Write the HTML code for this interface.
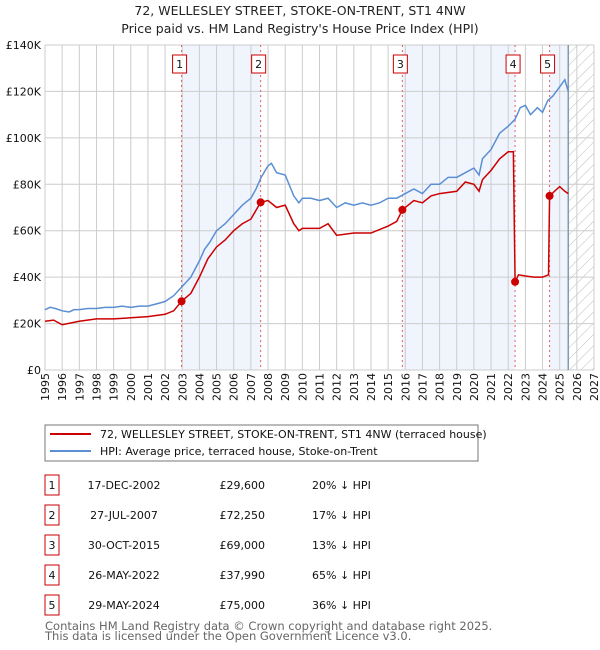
<!DOCTYPE html>
<html><head><meta charset="utf-8"><style>
body{margin:0;background:#fff;font-family:"DejaVu Sans","Liberation Sans",sans-serif;}
svg{display:block}
</style></head><body>
<svg id="c" width="600" height="650" xmlns="http://www.w3.org/2000/svg" font-family="DejaVu Sans, Liberation Sans, sans-serif">
<text x="300" y="15" text-anchor="middle" font-size="12.5" fill="#222">72, WELLESLEY STREET, STOKE-ON-TRENT, ST1 4NW</text>
<text x="300" y="33" text-anchor="middle" font-size="12.5" fill="#222">Price paid vs. HM Land Registry's House Price Index (HPI)</text>
<g id="plot"></g>
<rect x="45" y="425" width="433" height="36" fill="#fff" stroke="#777"/>
<line x1="50" y1="434" x2="91" y2="434" stroke="#cc0000" stroke-width="2"/>
<text x="100" y="438" font-size="11" fill="#111">72, WELLESLEY STREET, STOKE-ON-TRENT, ST1 4NW (terraced house)</text>
<line x1="50" y1="451" x2="91" y2="451" stroke="#5b8fd4" stroke-width="2"/>
<text x="100" y="455" font-size="11" fill="#111">HPI: Average price, terraced house, Stoke-on-Trent</text>
<g id="table"></g>
<text x="45" y="630" font-size="11.5" fill="#666">Contains HM Land Registry data © Crown copyright and database right 2025.</text>
<text x="45" y="640" font-size="11.5" fill="#666">This data is licensed under the Open Government Licence v3.0.</text>
</svg>
<script>
const yearTicks=[1995,1996,1997,1998,1999,2000,2001,2002,2003,2004,2005,2006,2007,2008,2009,2010,2011,2012,2013,2014,2015,2016,2017,2018,2019,2020,2021,2022,2023,2024,2025,2026,2027];
const priceTicks=[0,20,40,60,80,100,120,140];
const priceTickLabels=["£0","£20K","£40K","£60K","£80K","£100K","£120K","£140K"];
const hpiT=[1995,1995.3,1995.6,1996,1996.4,1996.7,1997,1997.5,1998,1998.5,1999,1999.5,2000,2000.5,2001,2001.5,2002,2002.5,2003,2003.5,2004,2004.3,2004.6,2005,2005.5,2006,2006.5,2007,2007.3,2007.6,2008,2008.2,2008.5,2009,2009.5,2009.8,2010,2010.5,2011,2011.5,2012,2012.5,2013,2013.5,2014,2014.5,2015,2015.5,2016,2016.5,2017,2017.5,2018,2018.5,2019,2019.5,2020,2020.3,2020.5,2021,2021.5,2022,2022.4,2022.7,2023,2023.3,2023.7,2024,2024.3,2024.6,2025,2025.3,2025.5];
const hpiV=[26,27,26.5,25.5,25,26,26,26.5,26.5,27,27,27.5,27,27.5,27.5,28.5,29.5,32,36,40,47,52,55,60,63,67,71,74,78,83,88,89,85,84,75,72,74,74,73,74,70,72,71,72,71,72,74,74,76,78,76,80,80,83,83,85,87,84,91,95,102,105,108,113,114,110,113,111,116,118,122,125,120];
const priceT=[1995,1995.5,1996,1997,1998,1999,2000,2001,2002,2002.5,2002.96,2003.5,2004,2004.5,2005,2005.5,2006,2006.5,2007,2007.57,2008,2008.5,2009,2009.5,2009.8,2010,2011,2011.5,2012,2013,2014,2015,2015.5,2015.83,2016.5,2017,2017.5,2018,2019,2019.5,2020,2020.3,2020.5,2021,2021.5,2022,2022.3,2022.4,2022.6,2023,2023.5,2024,2024.35,2024.41,2024.7,2025,2025.3,2025.5];
const priceV=[21,21.5,19.5,21,22,22,22.5,23,24,25.5,29.6,33,40,48,53,56,60,63,65,72.25,73,70,71,63,60,61,61,63,58,59,59,62,64,69,73,72,75,76,77,81,80,77,82,86,91,94,94,37.99,41,40.5,40,40,41,75,77,79,77,76];
const saleT=[2002.96,2007.57,2015.83,2022.40,2024.41];
const saleV=[29.6,72.25,69,37.99,75];
const saleDates=["17-DEC-2002","27-JUL-2007","30-OCT-2015","26-MAY-2022","29-MAY-2024"];
const salePrices=["£29,600","£72,250","£69,000","£37,990","£75,000"];
const saleDiff=["20% ↓ HPI","17% ↓ HPI","13% ↓ HPI","65% ↓ HPI","36% ↓ HPI"];
const forecastStart=2025.5;

const X0=45,X1=594,Y0=370,Y1=45;
const xs=t=>X0+(t-1995)/(2027-1995)*(X1-X0);
const ys=v=>Y0-v/140*(Y0-Y1);
const NS="http://www.w3.org/2000/svg";
const g=document.getElementById('plot');
function mk(tag,a,p){const e=document.createElementNS(NS,tag);for(const k in a)e.setAttribute(k,a[k]);(p||g).appendChild(e);return e;}
const defs=mk('defs',{});
const pat=mk('pattern',{id:'hatch',width:'8',height:'8',patternUnits:'userSpaceOnUse',patternTransform:'rotate(45)'},defs);
mk('line',{x1:0,y1:0,x2:0,y2:8,stroke:'#bbb','stroke-width':1},pat);
mk('rect',{x:X0,y:Y1,width:X1-X0,height:Y0-Y1,fill:'#fff'});
const spans=[[saleT[0],saleT[1]],[saleT[2],saleT[3]],[saleT[4],forecastStart]];
spans.forEach((s,i)=>{const r=mk('rect',{x:xs(s[0]),y:Y1,width:xs(s[1])-xs(s[0]),height:Y0-Y1,fill:'#f0f4fd'});

});
const hr=mk('rect',{x:xs(forecastStart),y:Y1,width:X1-xs(forecastStart),height:Y0-Y1,fill:'url(#hatch)'});


yearTicks.forEach(t=>{mk('line',{x1:xs(t),y1:Y1,x2:xs(t),y2:Y0,stroke:'#ccc','stroke-width':1});
const x=xs(t)+4,y=Y0+3;
const tx=mk('text',{x:x,y:y,'text-anchor':'end','font-size':'11',fill:'#111',transform:'rotate(-90 '+x+' '+y+')'});tx.textContent=t;

});
priceTicks.forEach((v,i)=>{mk('line',{x1:X0,y1:ys(v),x2:X1,y2:ys(v),stroke:'#ccc','stroke-width':1});
const tx=mk('text',{x:X0-4,y:ys(v)+4,'text-anchor':'end','font-size':'11',fill:'#111'});tx.textContent=priceTickLabels[i];

});
mk('line',{x1:xs(forecastStart),y1:Y1,x2:xs(forecastStart),y2:Y0,stroke:'#8899aa','stroke-width':1.5});
saleT.forEach((t,i)=>{mk('line',{x1:xs(t),y1:Y1,x2:xs(t),y2:Y0,stroke:'#e06060','stroke-width':1,'stroke-dasharray':'2,3'});
const bx=mk('rect',{x:xs(t)-7-2,y:55,width:14,height:18,fill:'#fff',stroke:'#cc0000'});


const tx=mk('text',{x:xs(t)-2,y:68,'text-anchor':'middle','font-size':'11',fill:'#111'});tx.textContent=i+1;});
const hp=mk('polyline',{points:hpiT.map((t,i)=>xs(t)+','+ys(hpiV[i])).join(' '),fill:'none',stroke:'#5b8fd4','stroke-width':1.5});


const pp=mk('polyline',{points:priceT.map((t,i)=>xs(t)+','+ys(priceV[i])).join(' '),fill:'none',stroke:'#cc0000','stroke-width':1.5});


saleT.forEach((t,i)=>{const c=mk('circle',{cx:xs(t),cy:ys(saleV[i]),r:4,fill:'#cc0000'});

});
const tb=document.getElementById('table');
saleDates.forEach((d,i)=>{const y=483+i*30;
const b=mk('rect',{x:45,y:y-8,width:14,height:20,fill:'#fff',stroke:'#cc0000'},tb);


const n=mk('text',{x:52,y:y+6,'text-anchor':'middle','font-size':'11',fill:'#111'},tb);n.textContent=i+1;
const a=mk('text',{x:124,y:y+6,'text-anchor':'middle','font-size':'11',fill:'#111'},tb);a.textContent=d;


const p=mk('text',{x:265,y:y+6,'text-anchor':'end','font-size':'11',fill:'#111'},tb);p.textContent=salePrices[i];


const h=mk('text',{x:312,y:y+6,'font-size':'11',fill:'#111'},tb);h.textContent=saleDiff[i];

});
</script>
</body></html>
